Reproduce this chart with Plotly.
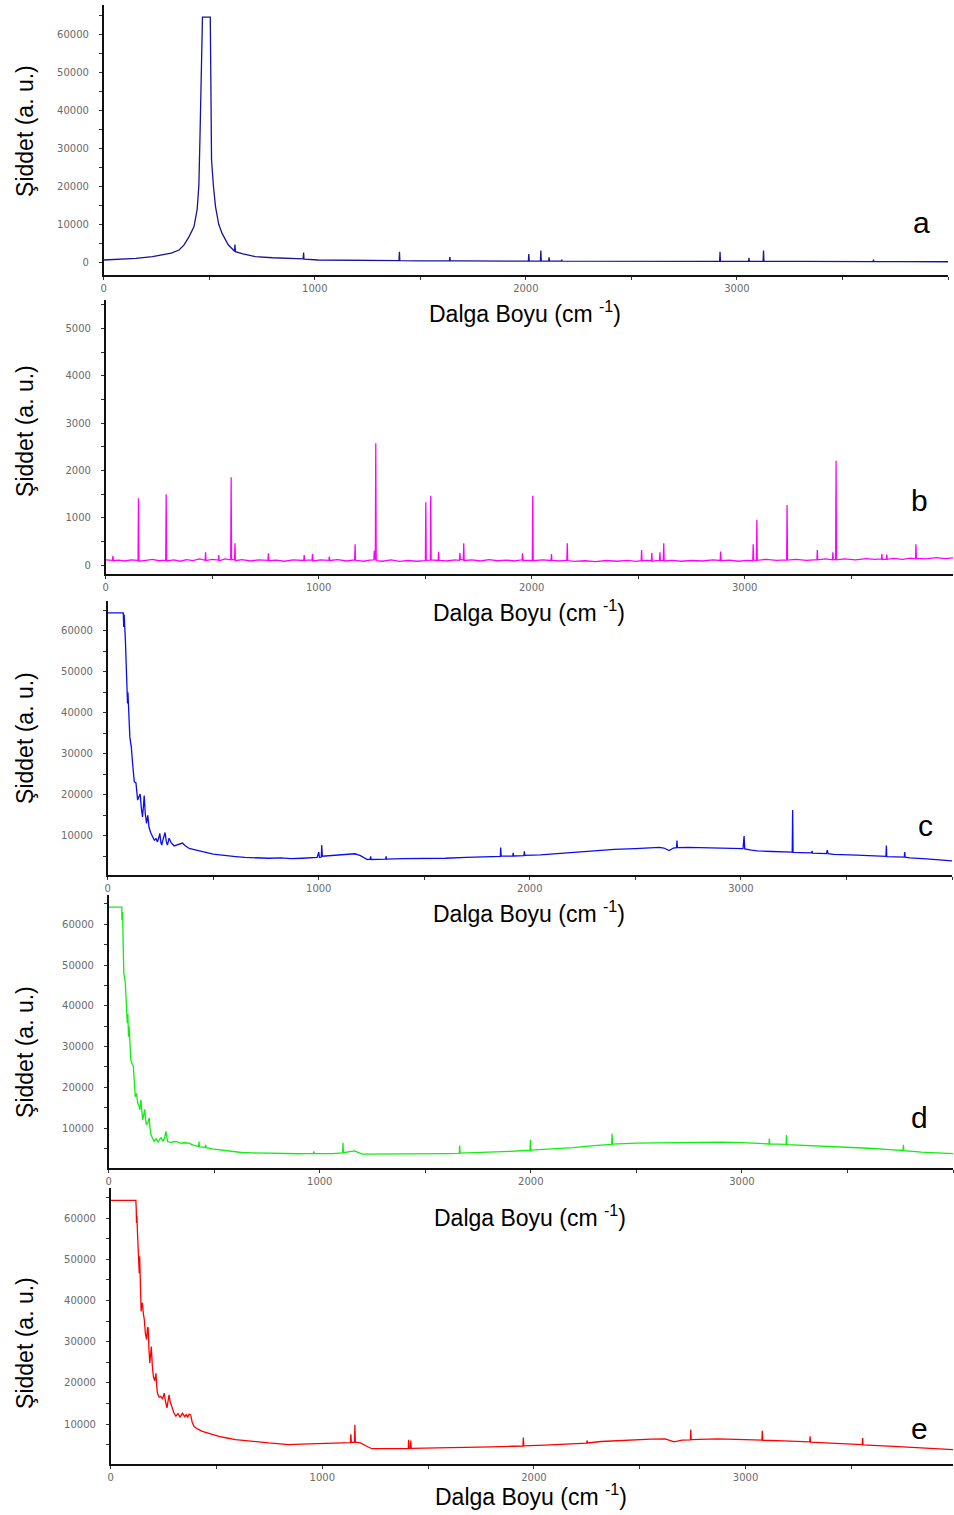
import plotly.graph_objects as go

# ---------------- data (wavenumber, intensity) ----------------
a_points = [(0,600),(60,750),(153,1050),(231,1500),(278,1900),(320,2400),(357,3240),(380,4500),(404,6700),
            (428,9400),(443,14000),(451,20300),(457,35000),(463,55000),(468,64500),(505,64500),(508,40000),
            (511,26900),(520,20000),(530,14600),(545,10000),(561,7600),(590,4600),(620,2900),(622,4700),
            (624,2800),(660,2200),(718,1500),(800,1200),(860,1050),(945,900),(947,2600),(949,850),(1017,600),
            (1100,520),(1200,480),(1300,450),(1399,420),(1401,2800),(1403,420),(1500,400),(1638,380),(1640,1400),
            (1642,380),(1700,350),(1800,330),(1900,320),(2012,300),(2014,2200),(2016,300),(2069,300),(2071,3100),
            (2073,300),(2108,300),(2110,1300),(2112,300),(2168,300),(2170,700),(2172,300),(2300,280),(2500,260),
            (2700,250),(2918,250),(2920,2800),(2922,250),(3055,240),(3057,1200),(3059,240),(3124,240),(3126,3100),
            (3128,240),(3300,220),(3500,200),(3645,200),(3647,700),(3649,200),(3800,180),(4000,150)]

b_points = [(0,110),(20,95),(32,100),(34,190),(36,90),(60,105),(90,85),(120,110),(152,95),(154,1410),(156,80),
            (190,100),(220,120),(250,90),(282,105),(284,1495),(286,85),(320,110),(350,80),(380,115),(410,95),
            (440,130),(467,100),(469,268),(471,95),(500,120),(529,105),(531,211),(533,90),(560,130),(587,110),
            (589,1854),(591,120),(605,110),(607,459),(609,90),(640,115),(680,85),(720,110),(762,100),(764,247),
            (766,90),(800,105),(840,80),(880,110),(930,95),(932,210),(934,100),(969,110),(971,230),(973,85),
            (1010,110),(1048,100),(1050,180),(1052,95),(1090,115),(1130,85),(1169,110),(1171,437),(1173,100),
            (1210,80),(1240,105),(1259,110),(1261,300),(1263,120),(1266,110),(1268,2573),(1270,90),(1300,80),
            (1340,110),(1380,75),(1420,95),(1460,80),(1501,90),(1503,1325),(1505,100),(1524,105),(1526,1466),
            (1528,110),(1561,95),(1563,275),(1565,100),(1600,85),(1640,110),(1661,100),(1663,254),(1665,120),
            (1679,105),(1681,459),(1683,95),(1720,110),(1760,85),(1800,115),(1840,90),(1880,105),(1920,85),
            (1955,110),(1957,250),(1959,95),(2003,100),(2005,1466),(2007,90),(2050,110),(2091,95),(2093,230),
            (2095,100),(2130,85),(2165,100),(2167,459),(2169,95),(2200,75),(2250,90),(2300,70),(2350,95),
            (2400,80),(2450,100),(2490,75),(2514,90),(2516,317),(2518,85),(2540,100),(2562,90),(2564,255),
            (2566,80),(2600,100),(2602,270),(2604,90),(2618,100),(2620,459),(2622,85),(2660,100),(2700,80),
            (2750,95),(2800,85),(2850,110),(2885,95),(2887,285),(2889,90),(2930,105),(2970,80),(3010,100),
            (3038,90),(3040,437),(3042,105),(3055,95),(3057,951),(3059,100),(3100,120),(3150,100),(3197,110),
            (3199,1268),(3201,105),(3240,120),(3290,100),(3339,115),(3341,317),(3343,110),(3380,130),(3412,110),
            (3414,270),(3416,120),(3427,115),(3429,2205),(3431,110),(3470,130),(3520,110),(3570,135),(3610,120),
            (3642,130),(3644,230),(3646,115),(3665,125),(3667,220),(3669,120),(3700,140),(3740,120),(3780,145),
            (3802,130),(3804,437),(3806,140),(3850,130),(3900,155),(3940,135),(3978,150)]

c_points = [(0,64400),(74,64400),(76,61000),(78,64000),(84,57700),(90,46800),(94,42300),(96,45000),(99,40000),
            (105,34200),(108,33000),(112,31700),(118,27700),(126,23200),(134,22900),(142,18700),(148,19500),
            (154,20200),(160,16500),(165,14600),(170,17500),(173,19800),(178,15500),(184,13000),(190,15000),
            (196,12000),(205,10600),(213,9800),(221,8900),(229,9300),(236,8500),(242,9500),(247,10600),(252,8400),
            (256,7700),(263,9200),(272,10800),(278,8500),(283,7700),(291,9400),(300,8400),(315,7500),(330,7800),
            (342,8100),(354,8200),(366,7600),(386,6900),(405,6700),(425,6400),(449,6100),(470,5900),(500,5500),
            (528,5300),(560,5100),(606,4900),(650,4700),(700,4600),(764,4500),(820,4600),(870,4400),(921,4500),
            (960,4600),(992,4700),(1000,6000),(1003,4700),(1012,4800),(1014,7700),(1017,5000),(1060,5200),
            (1120,5400),(1171,5600),(1195,5200),(1230,4200),(1244,4300),(1246,5000),(1248,4200),(1317,4300),
            (1319,5000),(1321,4300),(1400,4400),(1516,4400),(1600,4500),(1700,4700),(1800,4850),(1860,4950),
            (1862,7100),(1864,5000),(1919,5000),(1921,5800),(1923,5050),(1972,5150),(1974,6200),(1976,5200),
            (2050,5350),(2106,5580),(2200,5950),(2303,6300),(2400,6650),(2500,6850),(2560,7050),(2614,7150),
            (2635,7000),(2660,6400),(2680,7000),(2695,7100),(2697,8800),(2699,7100),(2750,7150),(2811,7100),
            (2900,7050),(2967,6950),(3010,6850),(3015,9900),(3018,6800),(3050,6500),(3078,6300),(3150,6150),
            (3243,6000),(3245,16300),(3247,5950),(3283,5900),(3335,5800),(3337,6300),(3339,5780),(3405,5650),
            (3409,6500),(3413,5600),(3439,5450),(3550,5250),(3640,5050),(3687,4950),(3689,7600),(3691,4900),
            (3774,4800),(3776,6000),(3778,4750),(3800,4600),(3880,4350),(3950,4050),(4000,3850)]

d_points = [(0,64200),(62,64200),(63,61000),(66,63000),(69,54100),(72,48000),(79,45500),(82,40600),(88,35700),
            (91,38000),(94,32400),(97,35000),(105,26700),(111,25800),(117,25100),(122,21000),(126,17700),
            (132,18500),(138,16000),(143,15500),(148,14500),(153,16900),(161,12000),(166,13200),(171,14600),
            (175,12000),(179,10800),(186,11500),(192,12500),(196,10000),(200,8400),(207,7600),(215,6700),
            (225,7400),(235,6500),(242,7300),(248,7600),(258,6800),(265,7500),(271,9200),(275,7200),(279,6700),
            (295,6500),(318,6700),(340,6300),(360,6400),(381,6300),(400,5800),(426,5500),(428,6700),(430,5400),
            (458,5300),(460,5900),(462,5200),(490,4900),(523,4700),(580,4300),(630,4000),(680,3900),(750,3800),
            (837,3700),(900,3700),(970,3800),(972,4300),(974,3750),(1000,3700),(1060,3750),(1108,3900),
            (1110,6400),(1112,3950),(1150,4300),(1165,4400),(1200,3600),(1300,3600),(1400,3650),(1500,3700),
            (1600,3750),(1661,3800),(1663,5700),(1665,3850),(1800,4050),(1900,4300),(1996,4550),(1998,7100),
            (2000,4600),(2100,4850),(2200,5200),(2300,5700),(2383,6000),(2385,8600),(2387,6050),(2500,6300),
            (2600,6400),(2700,6500),(2800,6550),(2900,6550),(3000,6450),(3100,6200),(3128,6100),(3130,7400),
            (3132,6100),(3209,6000),(3211,8300),(3213,5950),(3300,5750),(3400,5550),(3500,5350),(3600,5050),
            (3700,4700),(3763,4500),(3765,5900),(3767,4450),(3850,4100),(3950,3850),(4000,3750)]

e_points = [(0,64300),(119,64300),(121,62000),(122,58800),(124,60500),(127,56000),(130,53100),(132,50000),
            (135,46600),(137,50700),(140,45000),(144,37300),(147,39000),(150,39400),(154,37000),(159,35300),
            (164,32000),(170,30500),(174,33500),(177,33300),(181,28000),(185,24800),(189,27000),(192,28800),
            (197,24000),(202,21500),(208,20500),(214,22300),(218,19000),(221,17500),(229,16500),(237,16700),
            (245,16000),(253,17500),(259,15500),(266,13900),(271,15500),(276,17100),(281,15500),(287,14300),
            (298,12800),(308,11900),(318,12500),(328,11700),(339,12600),(350,11800),(358,12300),(363,11600),
            (371,12400),(378,12200),(385,10500),(394,9400),(410,8800),(433,8200),(470,7600),(512,7000),
            (550,6600),(590,6200),(650,5900),(700,5600),(747,5400),(800,5200),(842,5000),(900,5100),(983,5300),
            (1050,5400),(1100,5450),(1133,5500),(1135,7500),(1137,5550),(1152,5600),(1154,9800),(1156,5600),
            (1180,5400),(1210,4600),(1234,4000),(1300,4000),(1406,4050),(1408,6200),(1410,4050),(1416,4100),
            (1418,6000),(1420,4100),(1500,4150),(1600,4250),(1700,4350),(1800,4450),(1900,4600),(1948,4650),
            (1950,6700),(1952,4700),(2050,4850),(2150,5100),(2249,5350),(2251,6000),(2253,5400),(2317,5750),
            (2400,6000),(2553,6350),(2620,6400),(2662,5650),(2700,6100),(2739,6150),(2741,8600),(2743,6200),
            (2867,6400),(2950,6350),(3050,6150),(3077,6100),(3079,8350),(3081,6050),(3180,5900),(3250,5750),
            (3303,5650),(3305,7000),(3307,5600),(3400,5350),(3500,5100),(3551,5000),(3553,6600),(3555,4950),
            (3700,4550),(3850,4200),(3982,3760)]

panel_letters = ["a", "b", "c", "d", "e"]
line_colors = ["#14149e", "#ff00ff", "#0c0cf0", "#10ee10", "#ff0000"]
x_tick_vals = [0, 1000, 2000, 3000]
y_tick_vals_big = [0, 10000, 20000, 30000, 40000, 50000, 60000]
y_tick_vals_b = [0, 1000, 2000, 3000, 4000, 5000]
x_title = "Dalga Boyu (cm <sup>-1</sup>)"
y_title = "Şiddet (a. u.)"

# ---------------- layout geometry (pixels) ----------------
W, H = 954, 1515
panels = [
    dict(pts=a_points, xpx=(101, 948), ypx=(5, 275), xr=(0, 4000), yr=(-3342, 67710), yt=y_tick_vals_big, ym=5000,
         let=(921, 222), yty=131, xt=(524, 312)),
    dict(pts=b_points, xpx=(103, 953), ypx=(300, 574), xr=(0, 3978), yr=(-190, 5602), yt=y_tick_vals_b, ym=500,
         let=(919, 500), yty=431, xt=(528, 611)),
    dict(pts=c_points, xpx=(105, 952), ypx=(601, 875), xr=(0, 4000), yr=(415, 67317), yt=y_tick_vals_big[1:], ym=5000,
         let=(925, 825), yty=738, xt=(528, 912)),
    dict(pts=d_points, xpx=(106, 953), ypx=(895, 1168), xr=(0, 4000), yr=(200, 67181), yt=y_tick_vals_big[1:], ym=5000,
         let=(919, 1117), yty=1052, xt=(529, 1216)),
    dict(pts=e_points, xpx=(108, 953), ypx=(1188, 1464), xr=(0, 3980), yr=(291, 67282), yt=y_tick_vals_big[1:], ym=5000,
         let=(919, 1428), yty=1343, xt=(530, 1495)),
]

fig = go.Figure()
annotations = []
tick_font = dict(family="DejaVu Sans", size=10, color="#6a6a6a")
for i, p in enumerate(panels):
    n = "" if i == 0 else str(i + 1)
    xs = [q[0] for q in p["pts"]]
    ys = [q[1] for q in p["pts"]]
    fig.add_trace(go.Scatter(x=xs, y=ys, mode="lines", xaxis="x" + n, yaxis="y" + n,
                             line=dict(color=line_colors[i], width=1.3), showlegend=False,
                             hoverinfo="skip"))
    xd = [p["xpx"][0] / W, p["xpx"][1] / W]
    yd = [1 - p["ypx"][1] / H, 1 - p["ypx"][0] / H]
    fig.layout["xaxis" + n] = dict(
        domain=xd, range=list(p["xr"]), anchor="y" + n, showline=True, linecolor="#111", linewidth=1.5,
        ticks="outside", ticklen=3, tickwidth=1, tickcolor="#333",
        tickvals=x_tick_vals, ticktext=[str(v) for v in x_tick_vals],
        tickfont=tick_font, showgrid=False, zeroline=False, ticklabelstandoff=0,
        minor=dict(ticks="outside", ticklen=3, tickwidth=1, tickcolor="#333", dtick=500, tick0=0),
    )
    fig.layout["yaxis" + n] = dict(
        domain=yd, range=list(p["yr"]), anchor="x" + n, showline=True, linecolor="#111", linewidth=1.5,
        ticks="outside", ticklen=3, tickwidth=1, tickcolor="#333",
        tickvals=p["yt"], ticktext=[str(v) for v in p["yt"]],
        tickfont=tick_font, showgrid=False, zeroline=False, ticklabelstandoff=8,
        minor=dict(ticks="outside", ticklen=3, tickwidth=1, tickcolor="#333", dtick=p["ym"], tick0=0),
    )
    annotations.append(dict(text=panel_letters[i], x=p["let"][0] / W, y=1 - p["let"][1] / H,
                            xref="paper", yref="paper", showarrow=False, xanchor="center", yanchor="middle",
                            font=dict(family="Liberation Sans", size=30, color="#000")))
    annotations.append(dict(text=y_title, x=22 / W, y=1 - p["yty"] / H, xref="paper", yref="paper",
                            showarrow=False, textangle=-90, xanchor="center", yanchor="middle",
                            font=dict(family="Liberation Sans", size=23, color="#000")))
    annotations.append(dict(text=x_title, x=p["xt"][0] / W, y=1 - p["xt"][1] / H, xref="paper", yref="paper",
                            showarrow=False, xanchor="center", yanchor="middle",
                            font=dict(family="Liberation Sans", size=23, color="#000")))

fig.update_layout(width=W, height=H, margin=dict(l=0, r=0, t=0, b=0), plot_bgcolor="white",
                  paper_bgcolor="white", annotations=annotations, showlegend=False)
fig.write_html("out.html")
